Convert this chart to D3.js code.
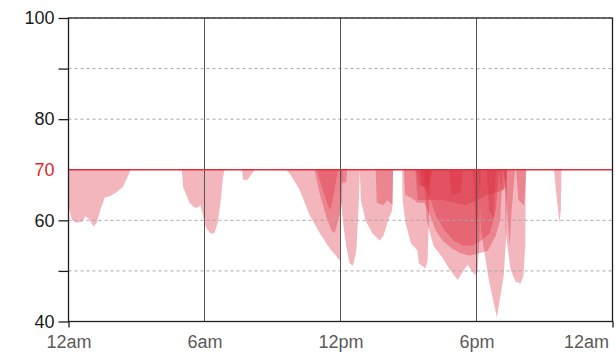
<!DOCTYPE html>
<html>
<head>
<meta charset="utf-8">
<script src="https://cdn.jsdelivr.net/npm/d3@7"></script>
<style>
  html, body { margin: 0; padding: 0; background: #fff; }
  svg { display: block; font-family: "Liberation Sans", Arial, sans-serif; }
</style>
</head>
<body>
<svg id="chart" width="616" height="353"></svg>
<script>
// ---- Data (hour of day, glucose value); only readings below 70 are shaded ----
const xTickValues = [0, 6, 12, 18, 24];
const xTickLabels = ["12am", "6am", "12pm", "6pm", "12am"];
const yTickValues = [40, 50, 60, 70, 80, 90, 100];
const yTickLabels = ["40", "", "60", "70", "80", "", "100"];
const threshold = 70;

const day1 = [
  [0,63],[0.15,60],[0.35,59.5],[0.6,59.7],[0.75,60.8],[0.9,60.3],[1.1,58.8],[1.25,59.5],[1.4,62],[1.6,64.5],[1.85,64.8],[2.1,65.5],[2.4,66.6],[2.6,68.5],[2.75,70],
  [5.0,70],[5.06,66.5],[5.35,63.4],[5.58,62.5],[5.72,62.6],[5.82,63],[5.93,61],[6.02,59.1],[6.15,58],[6.32,57.3],[6.45,57.6],[6.59,59.7],[6.72,64],[6.8,68],[6.88,70],
  [7.66,70],[7.7,68],[7.9,68],[8.22,70],
  [9.6,70],[9.8,69],[10.2,66],[10.64,61],[11.08,57.5],[11.52,54.5],[11.8,53],[11.98,52],[12.02,70],
  [14.72,70],[14.74,64],[14.87,59.5],[15.1,55.5],[15.4,54],[15.45,51.5],[15.75,50.5],[15.84,52],[15.9,60],[15.95,70],
  [18.1,70],[18.2,58],[18.55,48],[18.9,40.8],[19.2,49],[19.3,56],[19.35,70],
  [21.42,70],[21.5,66],[21.66,59.5],[21.72,62],[21.75,70]
];
const day2 = [
  [10.85,70],[11.1,65],[11.35,61],[11.6,58],[11.75,57.5],[11.9,60],[12.05,63],[12.1,70],
  [12.85,70],[12.9,64],[13.1,60],[13.4,57.5],[13.73,56],[13.9,57],[14.1,60],[14.28,62],[14.32,70],
  [14.8,70],[14.85,65],[15.1,64.5],[15.4,63.5],[15.7,63.5],[15.95,61],[16.2,58],[16.5,56],[16.9,54.5],[17.3,53.5],[17.7,53],[18.1,53.5],[18.5,54],[18.85,57],[19.05,60],[19.15,70],
  [19.25,70],[19.28,58],[19.5,50.3],[19.72,47.9],[19.94,47.5],[20.07,49],[20.15,55],[20.18,70]
];
const day3 = [
  [10.95,70],[11.15,67],[11.4,63.5],[11.55,62],[11.7,65],[11.85,69],[11.9,70],
  [11.95,70],[12.0,65],[12.1,60],[12.25,55],[12.4,51.5],[12.55,51],[12.7,54],[12.8,63],[12.85,70],
  [15.5,70],[15.6,67],[15.95,64.5],[16.2,61],[16.6,58],[17.0,56],[17.4,55],[17.8,55],[18.2,56],[18.6,57.5],[18.85,62],[19.0,70],
  [19.2,70],[19.35,62],[19.46,55],[19.55,62],[19.7,70]
];
const day4 = [
  [12.0,70],[12.05,67.5],[12.25,67.5],[12.3,70],
  [13.55,70],[13.6,63.5],[13.9,63],[14.05,64],[14.3,63],[14.32,70],
  [15.7,70],[15.8,60],[16.1,55],[16.5,52.6],[16.77,50.6],[17.17,48.2],[17.39,49.8],[17.61,51.2],[17.83,49.8],[17.96,49.2],[18.05,49.8],[18.12,56],[18.18,70],
  [19.75,70],[19.85,64],[20.1,63],[20.2,70]
];
const day5 = [
  [15.35,70],[15.45,67],[15.9,66.5],[16.05,70],
  [16.8,70],[16.9,65],[17.3,65.5],[17.4,70],
  [17.85,70],[17.95,60],[18.05,59],[18.12,70],
  [18.45,70],[18.55,62],[18.75,60.5],[18.85,70],
  [19.0,70],[19.1,66],[19.3,66.5],[19.35,70]
];
const day6 = [
  [15.3,70],[15.4,64],[16.5,64],[17.5,63],[18.5,65],[19.2,66],[19.3,70]
];
const days = [day1, day2, day3, day4, day5, day6];

// ---- Chart ----
const svg = d3.select("#chart");
const x = d3.scaleLinear().domain([0, 24]).range([68.5, 612.5]);
const y = d3.scaleLinear().domain([40, 100]).range([321.5, 18]);

const area = d3.area()
  .x(d => x(d[0]))
  .y0(y(threshold))
  .y1(d => y(Math.min(d[1], threshold)));

svg.append("g").selectAll("path")
  .data(days)
  .join("path")
  .attr("d", area)
  .attr("fill", "#dc2a3a")
  .attr("fill-opacity", 0.34);

// dashed horizontal gridlines
svg.append("g").selectAll("line")
  .data(yTickValues.filter(v => v !== threshold && v !== 40))
  .join("line")
  .attr("x1", x(0)).attr("x2", x(24))
  .attr("y1", d => y(d)).attr("y2", d => y(d))
  .attr("stroke", "#a8a8a8")
  .attr("stroke-width", 1)
  .attr("stroke-dasharray", "3,3");

// vertical lines at 6am, 12pm, 6pm
svg.append("g").selectAll("line")
  .data(xTickValues.slice(1, -1))
  .join("line")
  .attr("x1", d => x(d)).attr("x2", d => x(d))
  .attr("y1", y(100)).attr("y2", y(40))
  .attr("stroke", "#555")
  .attr("stroke-width", 1);

// threshold line
svg.append("line")
  .attr("x1", x(0)).attr("x2", x(24))
  .attr("y1", y(threshold)).attr("y2", y(threshold))
  .attr("stroke", "#e0303c")
  .attr("stroke-width", 1.5);

// frame
svg.append("rect")
  .attr("x", x(0)).attr("y", y(100))
  .attr("width", x(24) - x(0)).attr("height", y(40) - y(100))
  .attr("fill", "none")
  .attr("stroke", "#1e1e1e")
  .attr("stroke-width", 1.3);

// y axis
const yAxis = d3.axisLeft(y)
  .tickValues(yTickValues)
  .tickSize(10)
  .tickPadding(4)
  .tickFormat((d, i) => yTickLabels[i]);
const gy = svg.append("g").attr("transform", `translate(${x(0)},0)`).call(yAxis);
gy.select(".domain").remove();
gy.selectAll(".tick line").attr("stroke", "#1e1e1e").attr("stroke-width", 1.3)
  .attr("display", d => d === threshold ? "none" : null);
gy.selectAll(".tick text")
  .attr("font-size", 18)
  .attr("font-family", "Liberation Sans, Arial, sans-serif")
  .attr("fill", d => d === threshold ? "#e3262f" : "#1a1a1a");

// x axis
const xAxis = d3.axisBottom(x)
  .tickValues(xTickValues)
  .tickSize(6)
  .tickPadding(8)
  .tickFormat((d, i) => xTickLabels[i]);
const gx = svg.append("g").attr("transform", `translate(0,${y(40)})`).call(xAxis);
gx.select(".domain").remove();
gx.selectAll(".tick line").attr("stroke", "#1e1e1e").attr("stroke-width", 1.3)
  .attr("display", d => (d === 0 || d === 24) ? null : "none");
gx.selectAll(".tick text")
  .attr("font-size", 18)
  .attr("font-family", "Liberation Sans, Arial, sans-serif")
  .attr("fill", "#5a5a5a");
gx.selectAll(".tick text").filter(d => d === 24)
  .attr("text-anchor", "end").attr("dx", -4);
</script>
</body>
</html>
